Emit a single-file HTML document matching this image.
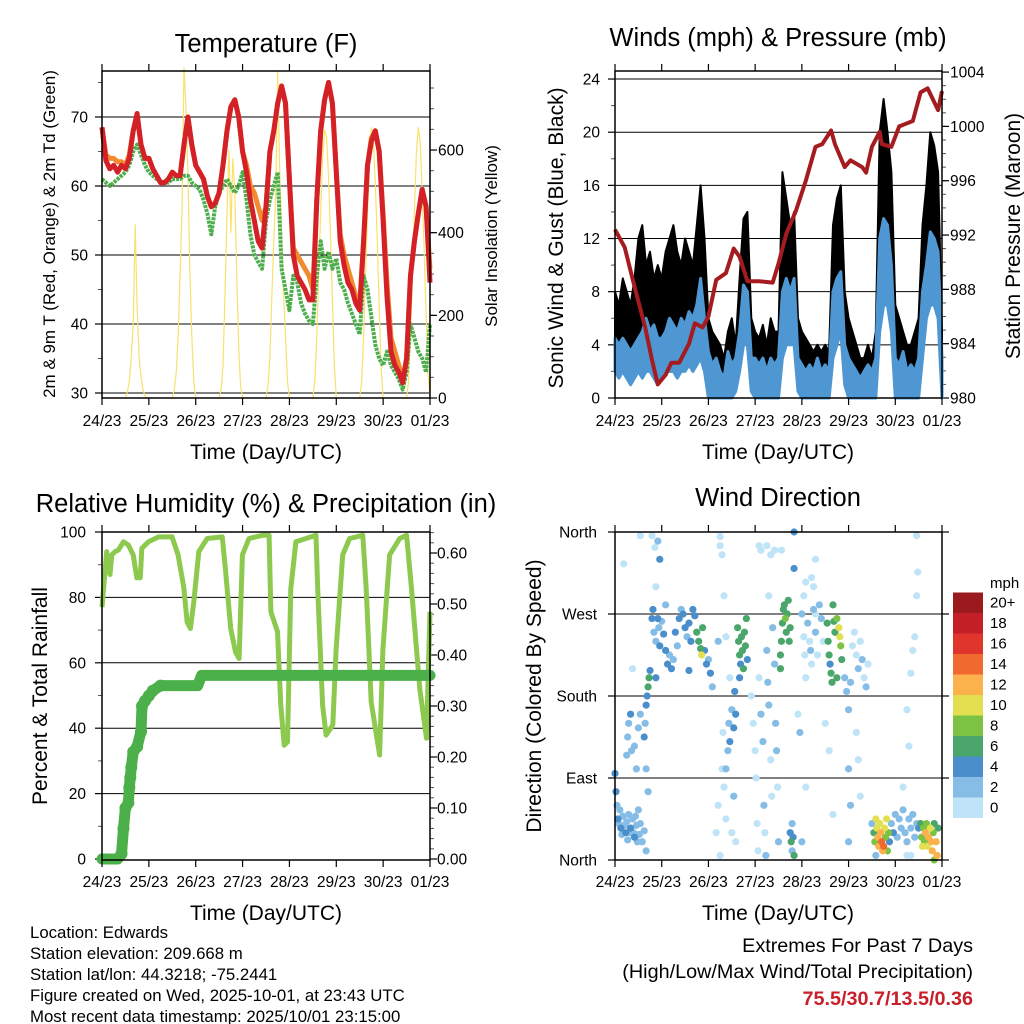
<!DOCTYPE html>
<html><head><meta charset="utf-8"><style>
body{margin:0;background:#fff}
svg{display:block;font-family:"Liberation Sans",sans-serif}
</style></head><body>
<svg id="s" width="1024" height="1024" viewBox="0 0 1024 1024" xmlns="http://www.w3.org/2000/svg">
<g font-size="25.5" text-anchor="middle">
<text x="266" y="52">Temperature (F)</text>
<text x="778" y="46">Winds (mph) &amp; Pressure (mb)</text>
<text x="266" y="512">Relative Humidity (%) &amp; Precipitation (in)</text>
<text x="778" y="506">Wind Direction</text>
</g>
<g font-size="21" text-anchor="middle">
<text x="266" y="459">Time (Day/UTC)</text>
<text x="778" y="459">Time (Day/UTC)</text>
<text x="266" y="920">Time (Day/UTC)</text>
<text x="778" y="920">Time (Day/UTC)</text>
<text transform="translate(55,234) rotate(-90)" font-size="17">2m &amp; 9m T (Red, Orange) &amp; 2m Td (Green)</text>
<text transform="translate(497,236) rotate(-90)" font-size="17">Solar Insolation (Yellow)</text>
<text transform="translate(563,238) rotate(-90)">Sonic Wind &amp; Gust (Blue, Black)</text>
<text transform="translate(1020,236) rotate(-90)">Station Pressure (Maroon)</text>
<text transform="translate(47,696) rotate(-90)">Percent &amp; Total Rainfall</text>
<text transform="translate(541,696) rotate(-90)">Direction (Colored By Speed)</text>
</g>
<g font-size="16.8">
<text x="30" y="938">Location: Edwards</text>
<text x="30" y="959">Station elevation: 209.668 m</text>
<text x="30" y="980">Station lat/lon: 44.3218; -75.2441</text>
<text x="30" y="1001">Figure created on Wed, 2025-10-01, at 23:43 UTC</text>
<text x="30" y="1022">Most recent data timestamp: 2025/10/01 23:15:00</text>
</g>
<g font-size="19.8" text-anchor="end">
<text x="973" y="952">Extremes For Past 7 Days</text>
<text x="973" y="978">(High/Low/Max Wind/Total Precipitation)</text>
<text x="973" y="1005" fill="#c8202a" font-weight="bold">75.5/30.7/13.5/0.36</text>
</g>
</svg>
<script>
// ---------- data ----------
const dayLabels=["24/23","25/23","26/23","27/23","28/23","29/23","30/23","01/23"];
const tempRed=[68.5,63.7,62.5,63,62,63,62.5,64,68,70.5,66,64,64,62.5,61.5,60.5,60.5,61,62,61.5,61.5,66,70,66,63,62,61,58.5,57,57.5,59,63,68,71.5,72.5,70,65,62,58,55,52,51,57,65,68,72,74.5,72,61,50,47,46,45,43.5,43.5,58,68,72.5,75,72,62,52,48.5,46,45,43,42,52,63,66.5,68,65,55,44,36,34,33,31.5,35,47,52,56,59.5,57,46];
const tempOrange=[68.5,64.5,64,64,63.5,63.5,63,64.5,68,70,66,64,64,62.5,61.5,60.5,60.5,61,62,61.5,61.5,66,70,66,63,62,61,58.5,57,57.5,59,63,68,71.5,72.5,70,65,63,60,59,57,55,57,65,68,72,74.5,72,61,51,50,49,48,47,45,58,68,72.5,75,72,62,53,50,48,46,44,43,52,63,67,68,65,56,46,38,36,34,32,35,47,52,56,59.5,57,48];
const tempGreen=[61,60.5,60,60.5,61,61.5,62,63,65,66,64.5,63,62,61.5,61,60.5,60.5,60.5,61,61,61,61.5,61.5,60.5,60,59.5,58,56,53,57,59,60,61,60,59,60,62,58,53,50,49,48,55,58,60,62,48,45,42,47,46,43,41.5,40.5,40,47,52,48,50.5,48,49.5,46,45,43,41.5,40,38.5,47,45,41,37,35,34,36,34,33,32,30.5,33,40,38,36,35,33,40];
const solarDays=[
[0,15,40,100,180,420,220,100,50,20,5,0,0],
[0,20,60,150,300,450,800,700,550,300,150,40,0],
[0,20,80,250,450,600,400,580,500,300,120,30,0],
[0,30,100,250,380,500,790,550,400,250,150,40,0],
[0,40,150,300,450,580,650,630,540,400,240,80,0],
[0,40,150,300,450,580,655,620,520,380,220,70,0],
[0,40,150,300,450,590,655,620,500,360,200,60,0]];
const blueHi=[4.5,4,4.5,4,3.5,4,4.5,5,6,5,5.5,4.5, 4.5,5,6,5.5,5,6,5.5,6.5,6,7,9,6, 3.5,2.5,3,2,1.5,3.5,2.5,3,5,8.5,8,3, 3,2.5,3,2,3,2.5,3,8,9,8,9,3, 2.5,2,2.5,2,3,2,2.5,2,8,9,9.5,4, 3,2.5,2,1.5,2,2.5,2,3,12,13.5,13,10, 3,2.5,3.5,2,2.5,2,3,8,10,12.5,12,11,3];
const blueLo=[2,1.5,2,1.5,1,1.5,2,1.5,2,2,1.5,1, 1.5,2,2,2,1.5,2,2,2.5,2,2.5,3,2, 0,0,0,0,0,0,0,0.5,2,4,4,0.5, 0,0,0,0,0,0,0,3,4,4,4,0.5, 0,0,0,0,0,0,0,0,3,4,5,1, 0,0,0,0,0,0,0,0,5,7,7,5, 0,0,0,0,0,0,0,3,6,7,7,6,0];
const gustHi=[8,7,9,8,7,9,12,13,10,11,9,10, 9,11,12,13,11,10,12,11,10,13,16,12, 6,5,4.5,4,3,5,6,4,9,13.5,14,6, 5,4.5,5.5,4,6,5,5,17,15,13,14,6, 5,4.5,4,3.5,4,3.5,4,3.5,13,15,16,8, 6,5,4,3,3,4,3,5,20,22.5,20,17, 7,6,5,4,4,5,6,13,16,20,19,17,5];
const gustLo=[3,3,3.5,3,2.5,3,3.5,4,4.5,4,4,3.5, 3.5,4,4,4,3.5,4,4,5,4.5,5,6,4, 1.5,1,1,1,0.5,1,1.5,1.5,4,7,7,2, 1,1,1.5,1,1.5,1,1,7,7,6.5,7,2, 1,0.5,1,0.5,1,0.5,1,0.5,6,8,8,3, 1.5,1,0.5,0.5,0.5,0.5,0.5,1,10,12,11,9, 1.5,1,1.5,1,1,1,1.5,6,10,11,11,9,1];
const pressHours=[0,5,10,15.5,19,22,26,29,33,38,41,45,48,52,57,61,64,68,74,81,84,88,93,98,103,106.5,111,113,118,121,127,129,132,136,137,142,146,149.5,153,157,160.6,166,168];
const pressVals=[992.4,991.1,988.2,985.2,982.8,981,981.7,982.6,982.6,984,985.5,985.2,986,988.7,989.2,991,990.4,988.6,988.6,988.5,989.9,992.1,993.8,996,998.5,998.7,999.7,998.7,997,997.5,997,996.6,998.5,999.6,998.7,998.5,1000,1000.2,1000.4,1002.5,1002.8,1001.2,1002.6];
const rhHours=[0,2.4,4.1,5,6.7,8.4,11,13.5,16,17.8,19.6,20.4,23.8,29,35.9,39,41.9,43.6,45.3,47,49.6,53.9,61.6,63.3,65.9,68.4,70.2,71.9,75.3,82.2,85.6,86.5,89.9,91.6,93.3,95,96.7,99.3,109.6,110.5,113,114.8,118.2,119.9,123.3,126.8,133.6,135.3,137.9,142.2,143.9,147.3,152.5,156,158.5,162.8,166.2,168];
const rhVals=[77,94,87,93,94,94.5,97,96,93,86,86,95,97,98.5,98.5,93,83,72.5,70.5,78.6,94,98,98.5,88,70.5,63.3,61.3,93,98,99,99,75.6,69.5,47,34.8,35.8,82.7,97,99,82.7,47,37.9,41,64,93,98,99,82.7,48,31.8,64,93,98,99,82.7,52,36.9,75.6];
const pcpHours=[0,8,10,11,12,13.5,14,14.5,15,16,18,20,20.5,22,24,26,30,49,51,168];
const pcpVals=[0,0,0.01,0.06,0.10,0.11,0.14,0.16,0.18,0.21,0.22,0.25,0.30,0.31,0.32,0.33,0.34,0.34,0.36,0.36];
const dirH=[0,0.5,1,1.5,2,3,3.5,4,5,5.5,6,6.5,7,8,9,9.5,10,10.5,11,12,12.5,13,14,15,16,2.5,7.5,11.5,
6,6.5,7,8,8.5,10,11,12,13,15,15.5,16,16.5,17,17.5,18,16,17,
19,19.5,20,21,22,22.5,23,24,25,26,27,28,29,30,31,32,33,34,35,36,37,38,39,40,41,42,43,44,44.5,45,46,47,48,49,50,21,26,38,
52,53,54,55,55.5,56,57,58,58.5,59,60,61,61.5,62,55,54,56,57,59,53,60,61,62,57,
63,63.5,64,64.5,65,65.5,66,66.5,67,67.5,68,64,
70,71,72,72.5,73,73.5,74,75,76,76.5,77,77.5,78,78.5,79,80,80.5,81,82,82.5,83,83.5,75,78,80,79,84,
85,85.5,86,86.5,87,87.5,88,88.5,89,89.5,90,85,
90,90.5,91,91.5,92,91,
94,95,96,97,97.5,98,99,100,100.5,101,102,103,104,105,106,107,108,98,101,102,103,96,98,110,112,118,119,120,121,122,123,124,125,126,127,128,129,130,124,125,126,120,121,120,
109,109.5,110,110.5,111,111.5,112,112.5,113,114,115,115.5,116,116.5,114,
132,133,133.5,134,134.5,135,135.5,136,136.5,137,137.5,138,138.5,139,139.5,140,140.5,141,134,
142,143,144,145,146,147,148,149,150,151,152,153,154,155,150,152,148,151,150,152,153,154,155,155.5,155,
156,157,157.5,158,158.5,159,159.5,160,160.5,161,162,162.5,163,163.5,164,165,165.5,166,164,
13,19,20.5,22,23,21,4.5,9,54,74,82,85.5,92,92,97,103];
const dirD=[95,75,60,45,40,35,28,48,38,30,42,22,50,35,45,30,25,48,38,55,28,40,20,32,10,55,30,20,
115,135,150,160,120,125,100,145,160,135,150,170,180,190,200,208,100,75,
265,275,250,240,265,255,235,262,248,230,215,225,210,220,250,235,265,275,270,255,245,260,240,275,268,250,240,232,225,255,230,215,220,205,190,200,280,208,
30,60,5,100,140,80,45,120,150,130,165,145,185,160,335,355,290,245,200,240,30,70,20,100,
255,240,225,215,245,230,210,250,235,265,220,200,
180,150,120,90,40,10,200,160,130,60,30,5,230,195,170,110,70,255,215,150,120,80,340,345,335,290,20,
225,240,260,275,280,265,250,270,285,240,255,210,
30,20,10,25,5,40,
160,140,270,245,225,200,260,240,230,215,275,250,225,280,265,240,150,305,310,300,330,20,80,120,50,200,185,165,195,235,250,225,210,240,220,200,190,215,140,110,70,100,60,20,
260,240,225,215,205,195,280,262,250,265,255,245,235,220,200,
40,30,20,45,35,25,15,40,30,20,10,15,35,25,45,10,30,20,5,
40,30,50,25,45,35,55,30,20,45,35,50,25,40,5,5,80,125,165,205,230,245,290,316,356,
35,40,25,15,35,20,30,40,15,25,35,20,10,30,40,20,5,35,0,
356,356,343,350,330,300,325,210,345,345,340,340,360,320,290,270];
const dirS=[4,4,3,4,3,4,3,2,3,4,2,3,3,4,2,3,4,2,3,2,3,2,3,2,2,3,2,2,
3,3,2,4,2,2,2,3,2,4,3,4,5,6,6,5,2,2,
4,4,3,3,4,3,4,3,4,4,4,3,4,3,4,3,4,3,4,4,3,4,4,4,4,6,6,7,10,6,4,4,3,4,3,4,3,4,
1,1,1,1,1,1,1,2,3,4,3,4,4,4,1,1,1,1,1,2,1,2,1,3,
6,6,6,5,7,6,6,6,6,6,5,5,
1,1,0,1,1,1,1,2,2,2,1,2,2,3,3,1,1,3,3,3,2,1,1,1,1,1,2,
6,6,6,7,6,8,7,6,6,7,6,6,
4,6,3,5,6,3,
1,2,2,1,1,1,2,1,3,1,2,2,1,2,2,1,1,1,1,1,1,2,1,1,1,2,3,2,2,1,1,1,2,1,2,1,2,1,1,1,1,2,3,2,
6,7,6,5,6,6,6,7,6,8,10,10,8,7,6,
3,6,8,10,11,12,13,10,12,14,12,15,10,9,10,8,9,4,2,
3,4,3,2,3,2,2,3,2,3,2,3,2,3,1,1,1,1,1,1,1,1,1,1,1,
4,6,8,10,8,9,12,8,10,12,10,13,12,8,7,12,12,6,9,
1,1,1,3,4,1,1,1,1,1,1,1,4,4,1,1];
const speedColors=["#bfe4f7","#86bde6","#4a8fcb","#4aa66b","#7cc343","#e2df50","#fbb14c","#f06a2f","#e0352d","#c21f27","#9a1a1d"];
const speedLabels=["0","2","4","6","8","10","12","14","16","18","20+"];
const dirLabels=["North","East","South","West","North"];

// ---------- helpers ----------
const NS="http://www.w3.org/2000/svg";
const svg=document.getElementById('s');
function mk(tag,attrs,parent){const e=document.createElementNS(NS,tag);for(const k in attrs)e.setAttribute(k,attrs[k]);(parent||svg).appendChild(e);return e;}
function pts(xs,ys){return xs.map((x,i)=>x.toFixed(1)+","+ys[i].toFixed(1)).join(" ");}
const H2=tempRed.map((_,i)=>i*2);

function panel(name,x0,x1,y0,y1){
  const g=mk('g',{});
  
  
  return {g,x0,x1,y0,y1,xs:h=>x0+h*(x1-x0)/168};
}
function frame(p){
  const r=mk('rect',{x:p.x0,y:p.y0,width:p.x1-p.x0,height:p.y1-p.y0,fill:'none',stroke:'#000','stroke-width':1.5},p.g);
  
  
}
function xAxis(p,labY){
  const g=mk('g',{'font-size':15.5,'text-anchor':'middle'},p.g);
  
  
  dayLabels.forEach((l,d)=>{
    const x=p.xs(d*24);
    mk('line',{x1:x,x2:x,y1:p.y1,y2:p.y1+7,stroke:'#000','stroke-width':1.2},g);
    mk('line',{x1:x,x2:x,y1:p.y0,y2:p.y0-7,stroke:'#000','stroke-width':1.2},g);
    const t=mk('text',{x:x,y:labY},g);t.textContent=l;
    
    
  });
}
function yTicks(p,side,vals,ys,labels,minorYs,labX,grid){
  const g=mk('g',{'font-size':15.5,'text-anchor':side=='L'?'end':'start'},p.g);
  
  
  const bx=side=='L'?p.x0:p.x1, dir=side=='L'?-1:1;
  minorYs.forEach(y=>mk('line',{x1:bx,x2:bx+dir*4,y1:y,y2:y,stroke:'#555','stroke-width':1},g));
  vals.forEach((v,i)=>{
    const y=ys[i];
    mk('line',{x1:bx,x2:bx+dir*7,y1:y,y2:y,stroke:'#000','stroke-width':1.2},g);
    if(grid&&grid(v)) mk('line',{x1:p.x0,x2:p.x1,y1:y,y2:y,stroke:'#000','stroke-width':1},p.g);
    if(labels[i]!==null){const t=mk('text',{x:labX,y:y+5.5},g);t.textContent=labels[i];
      
      }
  });
}
function range(a,b,s){const r=[];for(let v=a;v<=b+1e-9;v+=s)r.push(+v.toFixed(4));return r;}

// ---------- Temperature ----------
{
const p=panel('temperature-panel',102,430,71,398);
const ty=T=>117+(70-T)*6.9, sy=v=>398-v*0.4133;
yTicks(p,'L',range(30,70,10),range(30,70,10).map(ty),range(30,70,10).map(String),range(35,75,10).map(ty),88,v=>true);
yTicks(p,'R',range(0,600,200),range(0,600,200).map(sy),range(0,600,200).map(String),range(50,750,50).map(sy),438,null);
solarDays.forEach((vals,d)=>{
  const hs=vals.map((_,i)=>24*d+12+i);
  const l=mk('polyline',{points:pts(hs.map(p.xs),vals.map(sy)),fill:'none',stroke:'#f9e26a','stroke-width':1.2},p.g);
  
  
});
let l=mk('polyline',{points:pts(H2.map(p.xs),tempOrange.map(ty)),fill:'none',stroke:'#f28a30','stroke-width':5,'stroke-linejoin':'round'},p.g);


l=mk('polyline',{points:pts(H2.map(p.xs),tempGreen.map(ty)),fill:'none',stroke:'#4cae4c','stroke-width':4,'stroke-linejoin':'round','stroke-dasharray':'3 1'},p.g);


l=mk('polyline',{points:pts(H2.map(p.xs),tempRed.map(ty)),fill:'none',stroke:'#d42127','stroke-width':5,'stroke-linejoin':'round'},p.g);


frame(p);xAxis(p,426);
}
// ---------- Winds ----------
{
const p=panel('winds-panel',615,942,71,398);
const wy=m=>398-m*13.29, py=v=>398-(v-980)*13.58;
yTicks(p,'L',range(0,24,4),range(0,24,4).map(wy),range(0,24,4).map(String),range(2,22,4).map(wy),600,v=>v>0);
yTicks(p,'R',range(980,1004,4),range(980,1004,4).map(py),range(980,1004,4).map(String),range(981,1003,1).map(py),950,null);
const xs=H2.map(p.xs);
let b=mk('polygon',{points:pts(xs.concat(xs.slice().reverse()),gustHi.map(wy).concat(gustLo.map(wy).reverse())),fill:'#000',stroke:'#000','stroke-width':2,'stroke-linejoin':'round'},p.g);


b=mk('polygon',{points:pts(xs.concat(xs.slice().reverse()),blueHi.map(wy).concat(blueLo.map(wy).reverse())),fill:'#4e97d2',stroke:'#4e97d2','stroke-width':3,'stroke-linejoin':'round'},p.g);


const l=mk('polyline',{points:pts(pressHours.map(p.xs),pressVals.map(py)),fill:'none',stroke:'#a51c20','stroke-width':4,'stroke-linejoin':'round'},p.g);


frame(p);xAxis(p,426);
}
// ---------- RH ----------
{
const p=panel('humidity-panel',102,430,532,860);
const ry=r=>859-r*3.27, qy=v=>859-v*510;
yTicks(p,'L',range(0,100,20),range(0,100,20).map(ry),range(0,100,20).map(String),range(10,90,20).map(ry),86,v=>v>0&&v<100);
yTicks(p,'R',range(0,0.6,0.1),range(0,0.6,0.1).map(qy),range(0,0.6,0.1).map(v=>v.toFixed(2)),range(0.02,0.64,0.02).map(qy),437,null);
let l=mk('polyline',{points:pts(rhHours.map(p.xs),rhVals.map(ry)),fill:'none',stroke:'#8dc94f','stroke-width':5,'stroke-linejoin':'round'},p.g);


l=mk('polyline',{points:pts(pcpHours.map(p.xs),pcpVals.map(qy)),fill:'none',stroke:'#4cb04a','stroke-width':11,'stroke-linejoin':'round','stroke-linecap':'round'},p.g);


pcpHours.forEach((h,i)=>{if(h>8&&h<31){const c=mk('circle',{cx:p.xs(h),cy:qy(pcpVals[i]),r:6,fill:'#4cb04a'},p.g);

}});
frame(p);xAxis(p,887);
}
// ---------- Wind direction ----------
{
const p=panel('wind-direction-panel',615,942,532,860);
const dy=d=>860-d*328/360;
yTicks(p,'L',[0,90,180,270,360],[0,90,180,270,360].map(dy),dirLabels,[],597,v=>v>0&&v<360);
yTicks(p,'R',[0,90,180,270,360],[0,90,180,270,360].map(dy),[null,null,null,null,null],[],950,null);
const order=dirS.map((_,i)=>i).sort((a,b)=>dirS[a]-dirS[b]);
order.forEach(i=>{
  const c=mk('circle',{cx:p.xs(dirH[i]),cy:dy(dirD[i]),r:3.6,fill:speedColors[Math.min(10,Math.floor(dirS[i]/2))]},p.g);
  
  
});
frame(p);xAxis(p,887);
const cb=mk('g',{'font-size':15},svg);


const t=mk('text',{x:990,y:588},cb);t.textContent='mph';


speedLabels.forEach((lab,i)=>{
  const y=797.5-i*20.5;
  const r=mk('rect',{x:953,y:y,width:30,height:20.5,fill:speedColors[i]},cb);
  
  
  const tt=mk('text',{x:990,y:y+15},cb);tt.textContent=lab;
  
  
});
}
</script>
</body></html>
